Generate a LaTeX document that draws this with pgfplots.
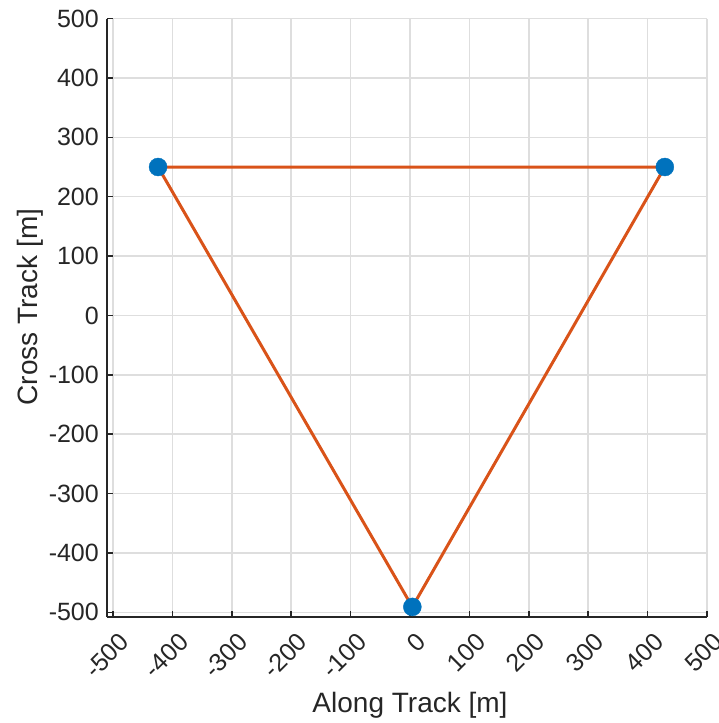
\documentclass[border=0pt]{standalone}
\usepackage{pgfplots}
\pgfplotsset{compat=1.18}
\usepackage{fontspec}
\setmainfont{Liberation Sans}
\definecolor{mblue}{rgb}{0,0.447,0.741}
\definecolor{morange}{rgb}{0.85,0.325,0.098}
\definecolor{maxis}{rgb}{0.15,0.15,0.15}
\begin{document}
\begin{tikzpicture}
\begin{axis}[
  scale only axis, width=600pt, height=598.4pt,
  xmin=-510, xmax=500, ymin=-508, ymax=500,
  axis x line=bottom, axis y line=left,
  axis line style={-, draw=maxis, line width=1.5pt},
  xtick={-500,-400,...,500}, ytick={-500,-400,...,500},
  xticklabels={-500,-400,-300,-200,-100,0,100,200,300,400,500},
  yticklabels={-500,-400,-300,-200,-100,0,100,200,300,400,500},
  xtick align=inside, ytick align=inside, major tick length=6pt,
  tick style={draw=maxis, line width=1.5pt},
  grid=major, major grid style={draw=black!13, line width=1.5pt},
  every tick label/.append style={font=\fontsize{25}{30}\selectfont, text=maxis},
  x tick label style={rotate=45, anchor=north east, inner sep=0pt, xshift=-6.5pt, yshift=-14pt},
  y tick label style={anchor=east, inner sep=0pt, xshift=-8pt},
  xlabel={Along Track [m]}, ylabel={Cross Track [m]},
  label style={font=\fontsize{28}{33}\selectfont, text=maxis},
  xlabel style={at={(axis description cs:0.5,0)}, anchor=center, yshift=-88pt, xshift=3pt},
  ylabel style={at={(axis description cs:-0.1283,0.518)}, anchor=center},
  clip=false,
]
\addplot[only marks, mark=*, mark size=9pt, mark options={draw=mblue, fill=mblue}]
  coordinates {(-424,250) (429,250) (4,-491)};
\addplot[morange, line width=3pt, no marks]
  coordinates {(-424,250) (429,250) (4,-491) (-424,250)};
\end{axis}
\pgfresetboundingbox
\path (current axis.south west) ++(-107pt,-106pt) rectangle ++(719pt,723pt);
\end{tikzpicture}
\end{document}
